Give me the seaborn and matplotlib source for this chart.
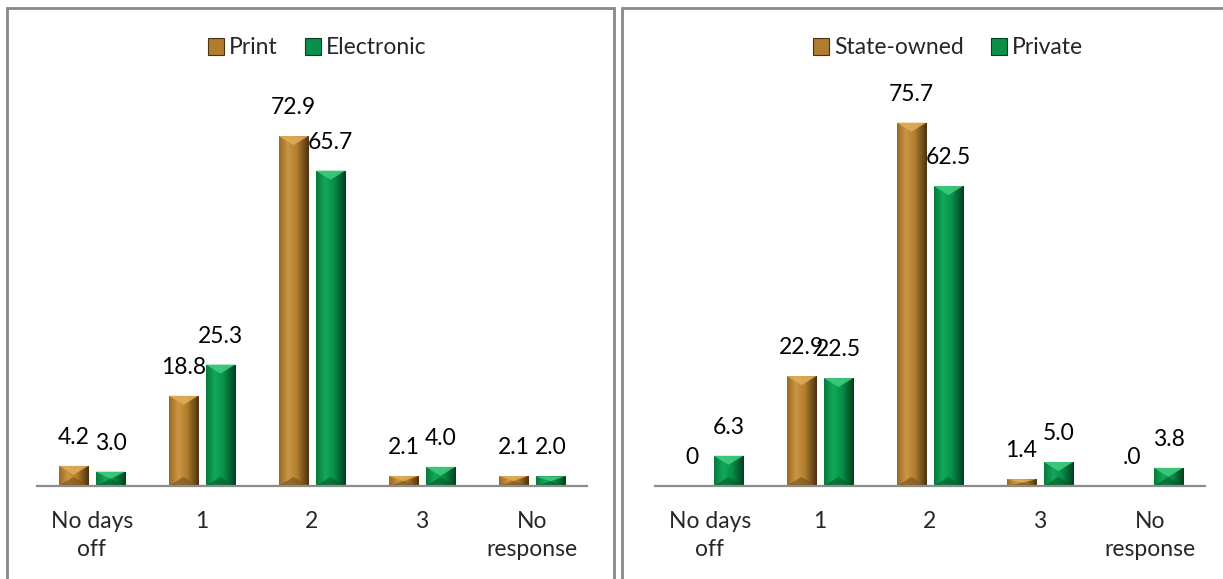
import numpy as np
import pandas as pd
import matplotlib
matplotlib.use("Agg")
import matplotlib.pyplot as plt
import seaborn as sns
from matplotlib.patches import Polygon, Rectangle, Patch
from matplotlib.colors import LinearSegmentedColormap

# ---------------- data ----------------
categories = ["No days\noff", "1", "2", "3", "No\nresponse"]

left_series = ["Print", "Electronic"]
print_vals = [4.2, 18.8, 72.9, 2.1, 2.1]
electronic_vals = [3.0, 25.3, 65.7, 4.0, 2.0]
print_labels = ["4.2", "18.8", "72.9", "2.1", "2.1"]
electronic_labels = ["3.0", "25.3", "65.7", "4.0", "2.0"]

right_series = ["State-owned", "Private"]
state_vals = [0, 22.9, 75.7, 1.4, 0]
private_vals = [6.3, 22.5, 62.5, 5.0, 3.8]
state_labels = ["0", "22.9", "75.7", "1.4", ".0"]
private_labels = ["6.3", "22.5", "62.5", "5.0", "3.8"]

# ---------------- style ----------------
sns.set_theme(style="white")
plt.rcParams["font.family"] = ["Lato", "DejaVu Sans"]
FS = 16.5

GOLD = dict(base="#B07C2E",
            grad=["#9A6A24", "#CB9643", "#B17D2F", "#4C330F"],
            top="#E0AC57", bottom="#7D5620")
GREEN = dict(base="#08904A",
             grad=["#067A3C", "#12A85A", "#08904A", "#023F1E"],
             top="#40CB7E", bottom="#05602F")

fig = plt.figure(figsize=(12.23, 5.79), dpi=100)

# panel borders (figure decoration)
border_kw = dict(transform=fig.transFigure, fill=False, edgecolor="#888888",
                 linewidth=2.0, clip_on=False)
fig.patches.append(Rectangle((7 / 1223, -0.05), (614 - 7) / 1223,
                             1.05 - 8 / 579, **border_kw))
fig.patches.append(Rectangle((622 / 1223, -0.05), (1260 - 622) / 1223,
                             1.05 - 8 / 579, **border_kw))

YMAX = 85.0
ax_h = YMAX * 4.8 / 579
ax_b = 93 / 579
axL = fig.add_axes([37 / 1223, ax_b, 550 / 1223, ax_h])
axR = fig.add_axes([655 / 1223, ax_b, 550 / 1223, ax_h])


def bevel(ax, patch, sty):
    x0, y0 = patch.get_x(), patch.get_y()
    w, h = patch.get_width(), patch.get_height()
    if h <= 0:
        return
    x1, y1 = x0 + w, y0 + h
    patch.set_visible(False)
    bv = min(9 / 4.8, h / 2)
    xm = x0 + w / 2
    cmap = LinearSegmentedColormap.from_list(
        "g", list(zip([0, 0.3, 0.6, 1.0], sty["grad"])))
    grad = np.linspace(0, 1, 64)[None, :]
    clip = Rectangle((x0, y0), w, h, transform=ax.transData)
    im = ax.imshow(grad, cmap=cmap, extent=[x0, x1, y0, y1], aspect="auto",
                   origin="lower", zorder=2, interpolation="bilinear")
    im.set_clip_path(clip)
    ax.add_patch(Polygon([(x0, y1), (x1, y1), (xm, y1 - bv)], closed=True,
                         facecolor=sty["top"], edgecolor="none", zorder=3,
                         alpha=0.9))
    ax.add_patch(Polygon([(x0, y0), (x1, y0), (xm, y0 + bv)], closed=True,
                         facecolor=sty["bottom"], edgecolor="none", zorder=3,
                         alpha=0.7))


def draw_panel(ax, series, v1, v2, l1, l2, legend_x):
    df = pd.DataFrame({
        "cat": categories * 2,
        "val": list(v1) + list(v2),
        "series": [series[0]] * len(categories) + [series[1]] * len(categories),
    })
    sns.barplot(data=df, x="cat", y="val", hue="series", order=categories,
                hue_order=series, palette=[GOLD["base"], GREEN["base"]],
                width=0.672, gap=0.2, ax=ax, legend=False, errorbar=None,
                saturation=1)
    labels_all = list(l1) + list(l2)
    styles = [GOLD] * len(categories) + [GREEN] * len(categories)
    bars = list(ax.patches)
    for p, lab, sty in zip(bars, labels_all, styles):
        cx = p.get_x() + p.get_width() / 2
        top = p.get_y() + p.get_height()
        ax.annotate(lab, (cx, top), xytext=(0, 13), textcoords="offset points",
                    ha="center", va="bottom", fontsize=FS, color="black",
                    zorder=5)
        bevel(ax, p, sty)
    ax.set_xlim(-0.5, len(categories) - 0.5)
    ax.set_ylim(0, YMAX)
    ax.set_xlabel("")
    ax.set_ylabel("")
    ax.set_yticks([])
    ax.tick_params(axis="x", length=0, pad=18, labelsize=FS)
    for t in ax.get_xticklabels():
        t.set_linespacing(1.4)
    for s in ["top", "right", "left"]:
        ax.spines[s].set_visible(False)
    ax.spines["bottom"].set_color("#8C8C8C")
    ax.spines["bottom"].set_linewidth(1.6)
    ax.spines["bottom"].set_zorder(4)
    ax.set_facecolor("none")
    handles = [Patch(facecolor=GOLD["base"], edgecolor=GOLD["grad"][3], linewidth=0.8),
               Patch(facecolor=GREEN["base"], edgecolor=GREEN["grad"][3], linewidth=0.8)]
    leg = fig.legend(handles, series, loc="center",
                     bbox_to_anchor=(legend_x, 1 - 48 / 579),
                     bbox_transform=fig.transFigure, ncol=2, frameon=False,
                     fontsize=FS, handlelength=0.7, handleheight=0.7,
                     handletextpad=0.2, columnspacing=1.2)
    return leg


draw_panel(axL, left_series, print_vals, electronic_vals,
           print_labels, electronic_labels, 317 / 1223)
draw_panel(axR, right_series, state_vals, private_vals,
           state_labels, private_labels, 948 / 1223)

fig.savefig("out.png", dpi=100, facecolor="white")
